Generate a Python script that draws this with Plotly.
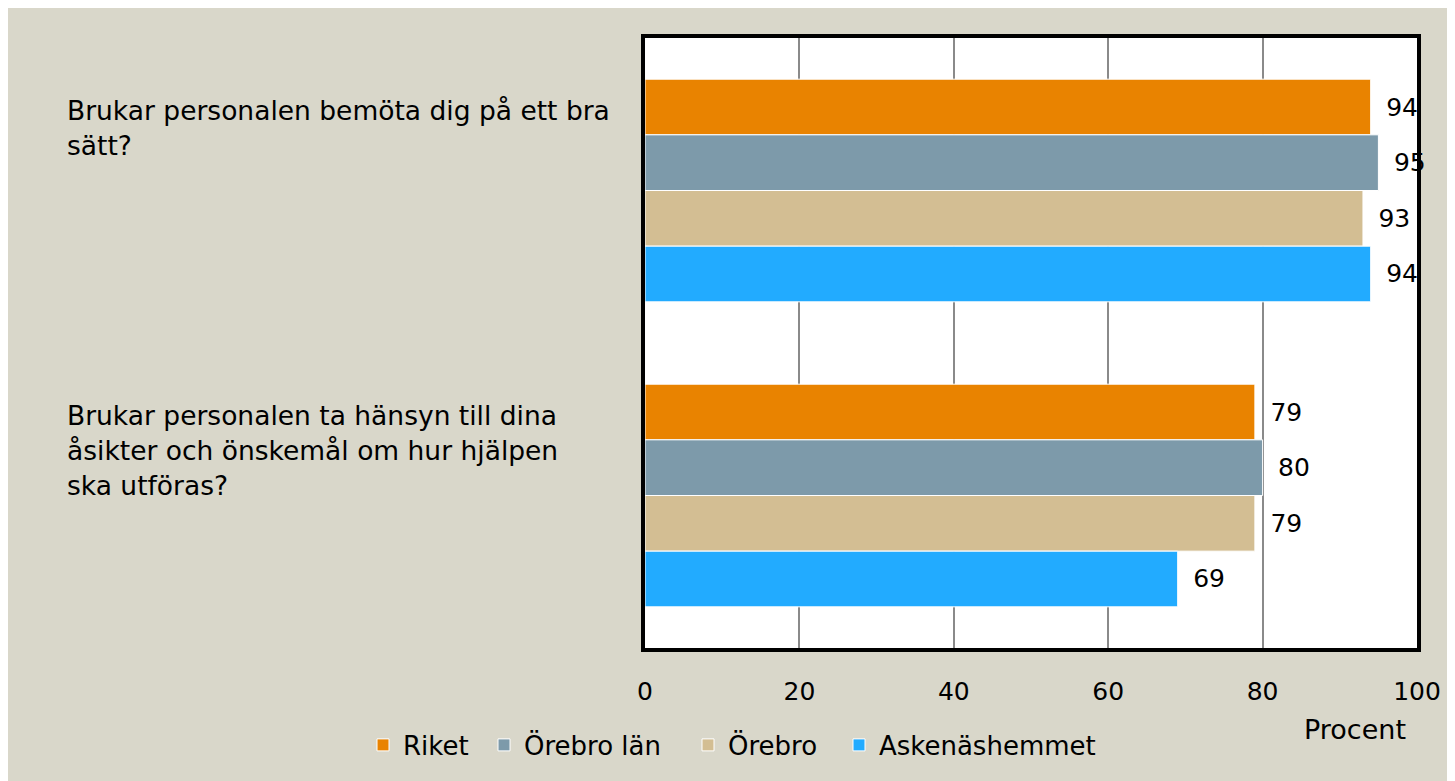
import plotly.graph_objects as go

categories = [
    "Brukar personalen bemöta dig på ett bra<br>sätt?",
    "Brukar personalen ta hänsyn till dina<br>åsikter och önskemål om hur hjälpen<br>ska utföras?",
]
cat_keys = ["q1", "q2"]
series_names = ["Riket", "Örebro län", "Örebro", "Askenäshemmet"]
riket = [94, 79]
orebro_lan = [95, 80]
orebro = [93, 79]
askenas = [94, 69]
colors = ["#E98300", "#7D9AAA", "#D3BE93", "#22ABFF"]
x_ticks = [0, 20, 40, 60, 80, 100]

FONT = "DejaVu Sans"
BEIGE = "#D9D7CA"
legend_ids = ["legend", "legend2", "legend3", "legend4"]
legend_px = [355, 476, 680, 831]  # left edge of each legend entry, figure pixels

fig = go.Figure()
for name, vals, col, lid in zip(series_names, [riket, orebro_lan, orebro, askenas], colors, legend_ids):
    fig.add_trace(go.Bar(
        y=cat_keys, x=vals, name=name, orientation="h", legend=lid, showlegend=True,
        marker=dict(color=col, line=dict(color="white", width=1)),
        text=vals, texttemplate="\u2002%{x}", textposition="outside",
        textfont=dict(family=FONT, size=25, color="black"),
        cliponaxis=False,
    ))

annotations = []
for key, lab in zip(cat_keys, categories):
    for i, line in enumerate(lab.split("<br>")):
        annotations.append(dict(
            x=-0.7513, xref="paper", y=key, yref="y", xanchor="left", yanchor="middle",
            yshift=80 - i * 35, text=line, showarrow=False, align="left",
            font=dict(family=FONT, size=26.5, color="black"),
        ))
annotations.append(dict(
    x=0.92, xref="paper", y=-0.134, yref="paper", text="Procent", showarrow=False,
    xanchor="center", yanchor="middle", font=dict(family=FONT, size=27, color="black"),
))

legends = {}
for lid, px in zip(legend_ids, legend_px):
    legends[lid] = dict(orientation="h", x=(px - 637) / 772, xanchor="left", y=-0.159,
                        yanchor="middle", font=dict(family=FONT, size=26),
                        bgcolor="rgba(0,0,0,0)", itemwidth=30, visible=True)

fig.update_layout(
    width=1447, height=773,
    margin=dict(l=637, r=38, t=30, b=133),
    paper_bgcolor=BEIGE, plot_bgcolor="white",
    barmode="group", bargap=0.27, bargroupgap=0,
    showlegend=True,
    font=dict(family=FONT, size=26, color="black"),
    xaxis=dict(range=[0, 100], tickvals=x_ticks, showgrid=True, gridcolor="#8A8A8A", gridwidth=1.5,
               showline=True, mirror=True, linecolor="black", linewidth=4, zeroline=False,
               ticks="", ticklabelstandoff=18, tickfont=dict(family=FONT, size=25)),
    yaxis=dict(autorange="reversed", showticklabels=False, showline=True, mirror=True,
               linecolor="black", linewidth=4, showgrid=False, ticks=""),
    annotations=annotations,
    **legends,
)
fig.write_html("out.html")
